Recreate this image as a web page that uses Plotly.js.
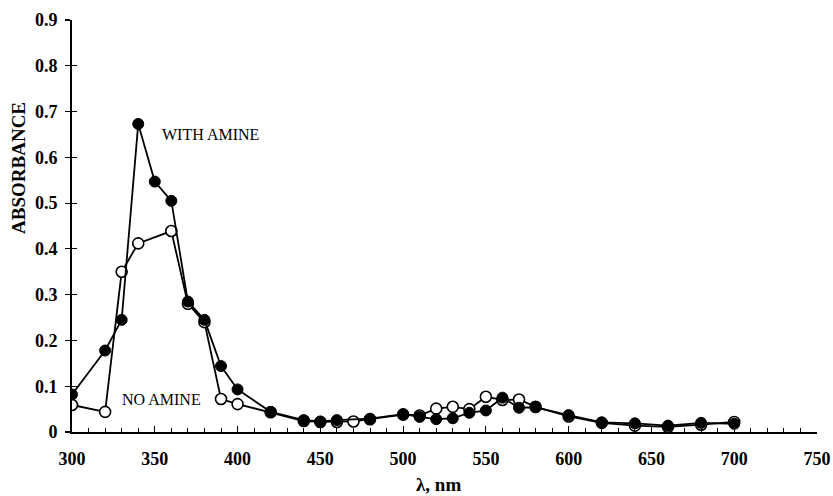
<!DOCTYPE html>
<html>
<head>
<meta charset="utf-8">
<script src="https://cdn.plot.ly/plotly-3.0.1.min.js"></script>
<style>html,body{margin:0;padding:0;background:#fff;}#chart{width:833px;height:496px;}</style>
</head>
<body>
<div id="chart"></div>
<script>
// Wavelengths (nm) and absorbance values
const withAmineX = [300,320,330,340,350,360,370,380,390,400,420,440,450,460,480,500,510,520,530,540,550,560,570,580,600,620,640,660,680,700];
const withAmineY = [0.082,0.178,0.245,0.673,0.547,0.505,0.285,0.245,0.144,0.093,0.044,0.026,0.023,0.026,0.029,0.039,0.033,0.028,0.030,0.042,0.047,0.075,0.053,0.054,0.037,0.021,0.019,0.014,0.020,0.018];

const noAmineX = [300,320,330,340,360,370,380,390,400,420,440,450,460,470,480,500,510,520,530,540,550,560,570,580,600,620,640,660,680,700];
const noAmineY = [0.059,0.044,0.350,0.412,0.439,0.280,0.240,0.072,0.061,0.043,0.024,0.022,0.022,0.023,0.028,0.038,0.036,0.051,0.055,0.050,0.077,0.070,0.071,0.055,0.034,0.020,0.014,0.011,0.016,0.022];

const xTickVals = [300,350,400,450,500,550,600,650,700,750];
const yTickVals = [0,0.1,0.2,0.3,0.4,0.5,0.6,0.7,0.8,0.9];
const yTickText = ['0','0.1','0.2','0.3','0.4','0.5','0.6','0.7','0.8','0.9'];

const serif = 'Liberation Serif, Times New Roman, serif';

const traces = [
  {
    x: noAmineX, y: noAmineY, type: 'scatter', mode: 'lines+markers', name: 'NO AMINE',
    line: {color: '#000', width: 1.8},
    marker: {symbol: 'circle', size: 11, color: '#fff', line: {color: '#000', width: 1.6}},
    hoverinfo: 'x+y'
  },
  {
    x: withAmineX, y: withAmineY, type: 'scatter', mode: 'lines+markers', name: 'WITH AMINE',
    line: {color: '#000', width: 1.8},
    marker: {symbol: 'circle', size: 11, color: '#000', line: {color: '#000', width: 1}},
    hoverinfo: 'x+y'
  },
  {
    x: [], y: [], type: 'scatter', mode: 'markers', yaxis: 'y2', showlegend: false, hoverinfo: 'skip'
  }
];

const layout = {
  width: 833, height: 496,
  margin: {l: 72, r: 16, t: 20, b: 64},
  paper_bgcolor: '#fff', plot_bgcolor: '#fff',
  showlegend: false,
  font: {family: serif, color: '#000'},
  xaxis: {
    range: [300, 750], tickvals: xTickVals, ticks: 'inside', ticklen: 6, tickwidth: 1.2, tickcolor: '#000',
    minor: {dtick: 10, ticks: 'inside', ticklen: 4, tickwidth: 1, tickcolor: '#000'},
    showline: true, linecolor: '#000', linewidth: 2, showgrid: false, zeroline: false,
    ticklabelstandoff: 9,
    tickfont: {family: serif, size: 18, weight: 'bold', color: '#000'}
  },
  yaxis: {
    range: [0, 0.9], tickvals: yTickVals, ticktext: yTickText, ticks: 'outside', ticklen: 5, tickwidth: 1.2, tickcolor: '#000',
    showline: true, linecolor: '#000', linewidth: 2, showgrid: false, zeroline: false,
    ticklabelstandoff: 4,
    tickfont: {family: serif, size: 18, weight: 'bold', color: '#000'}
  },
  yaxis2: {
    range: [0, 0.9], overlaying: 'y', anchor: 'x', side: 'left', tickvals: yTickVals,
    ticks: 'inside', ticklen: 5, tickwidth: 1.2, tickcolor: '#000', showticklabels: false,
    showline: false, showgrid: false, zeroline: false
  },
  annotations: [
    {x: 352.9, y: 0.649, xref: 'x', yref: 'y', text: 'WITH AMINE', showarrow: false, xanchor: 'left', yanchor: 'middle',
     font: {family: serif, size: 16, color: '#000'}},
    {x: 328.7, y: 0.070, xref: 'x', yref: 'y', text: 'NO AMINE', showarrow: false, xanchor: 'left', yanchor: 'middle',
     font: {family: serif, size: 16, color: '#000'}},
    {x: -0.0711, y: 0.641, xref: 'paper', yref: 'paper', text: 'ABSORBANCE', textangle: -90, showarrow: false,
     xanchor: 'center', yanchor: 'middle', font: {family: serif, size: 19, weight: 'bold', color: '#000'}},
    {x: 0.4926, y: -0.1286, xref: 'paper', yref: 'paper', text: 'λ, nm', showarrow: false,
     xanchor: 'center', yanchor: 'middle', font: {family: serif, size: 19, weight: 'bold', color: '#000'}}
  ]
};

Plotly.newPlot('chart', traces, layout, {displayModeBar: false, staticPlot: true});
</script>
</body>
</html>
